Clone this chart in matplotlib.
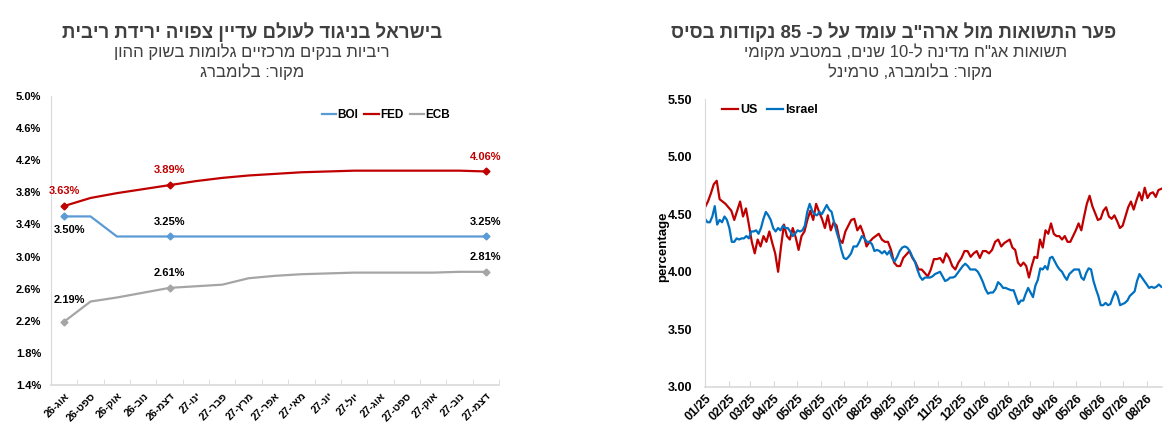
import re
import matplotlib
matplotlib.use('Agg')
import matplotlib.pyplot as plt
import matplotlib.dates as mdates
from matplotlib.lines import Line2D
from matplotlib.ticker import FixedLocator, FuncFormatter, MultipleLocator
import pandas as pd

plt.rcParams['font.family'] = ['Liberation Sans', 'DejaVu Sans']


def heb(s):
    # matplotlib has no bidi: put hebrew text in visual order, keep numbers / latin LTR
    tokens = re.findall(r'[0-9A-Za-z.%/]+|[^0-9A-Za-z.%/]', s)
    return ''.join(tokens[::-1])


#%% data - left chart (policy rate expectations)
months = ['אוג-26', 'ספט-26', 'אוק-26', 'נוב-26', 'דצמ-26', 'ינו-27', 'פבר-27', 'מרץ-27', 'אפר-27',
          'מאי-27', 'יונ-27', 'יול-27', 'אוג-27', 'ספט-27', 'אוק-27', 'נוב-27', 'דצמ-27']
boi = [3.50, 3.50, 3.25, 3.25, 3.25, 3.25, 3.25, 3.25, 3.25, 3.25, 3.25, 3.25, 3.25, 3.25, 3.25, 3.25, 3.25]
fed = [3.63, 3.73, 3.79, 3.84, 3.89, 3.94, 3.98, 4.01, 4.03, 4.05, 4.06, 4.07, 4.07, 4.07, 4.07, 4.07, 4.06]
ecb = [2.19, 2.44, 2.49, 2.55, 2.61, 2.63, 2.65, 2.73, 2.76, 2.78, 2.79, 2.80, 2.80, 2.80, 2.80, 2.81, 2.81]
label_idx = [0, 4, 16]
left_yticks = [1.4, 1.8, 2.2, 2.6, 3.0, 3.4, 3.8, 4.2, 4.6, 5.0]

#%% data - right chart (10y yields), read in three stretches
us_segments = [('2025-01-01', '2025-07-11'), ('2025-07-15', '2026-01-27'), ('2026-02-03', '2026-08-20')]
us_1 = [4.56, 4.61, 4.68, 4.76, 4.79, 4.63, 4.61, 4.59, 4.56, 4.53, 4.45, 4.53, 4.61, 4.48, 4.55, 4.41, 4.26,
        4.16, 4.28, 4.22, 4.31, 4.26, 4.35, 4.25, 4.16, 4.00, 4.22, 4.41, 4.31, 4.28, 4.38, 4.30, 4.19, 4.31,
        4.35, 4.45, 4.53, 4.45, 4.59, 4.52, 4.46, 4.38, 4.49, 4.36, 4.43, 4.40, 4.28, 4.25, 4.35, 4.40, 4.45]
us_2 = [4.46, 4.36, 4.40, 4.33, 4.22, 4.26, 4.29, 4.31, 4.33, 4.28, 4.26, 4.26, 4.19, 4.08, 4.05, 4.05, 4.12,
        4.15, 4.18, 4.12, 4.08, 4.02, 4.02, 3.99, 3.96, 4.02, 4.11, 4.11, 4.12, 4.08, 4.16, 4.12, 4.05, 4.02,
        4.08, 4.12, 4.18, 4.18, 4.13, 4.16, 4.18, 4.12, 4.18, 4.18, 4.16, 4.19, 4.26, 4.28, 4.22, 4.25]
us_3 = [4.28, 4.21, 4.19, 4.08, 4.05, 4.08, 4.05, 3.95, 4.05, 4.13, 4.12, 4.28, 4.21, 4.36, 4.33, 4.42, 4.33,
        4.31, 4.31, 4.28, 4.31, 4.26, 4.26, 4.31, 4.36, 4.42, 4.36, 4.48, 4.59, 4.66, 4.57, 4.51, 4.45, 4.46,
        4.53, 4.56, 4.48, 4.46, 4.49, 4.44, 4.38, 4.40, 4.48, 4.56, 4.61, 4.54, 4.62, 4.69, 4.62, 4.73, 4.64,
        4.68, 4.69, 4.65, 4.71, 4.72]

il_segments = [('2025-01-01', '2025-07-14'), ('2025-07-15', '2026-02-01'), ('2026-02-05', '2026-08-20')]
il_1 = [4.46, 4.43, 4.43, 4.48, 4.57, 4.41, 4.45, 4.43, 4.48, 4.45, 4.38, 4.26, 4.26, 4.29, 4.28, 4.29, 4.29,
        4.31, 4.29, 4.35, 4.35, 4.36, 4.33, 4.38, 4.46, 4.52, 4.49, 4.45, 4.38, 4.35, 4.38, 4.36, 4.40, 4.38,
        4.38, 4.35, 4.31, 4.33, 4.36, 4.35, 4.36, 4.40, 4.52, 4.59, 4.53, 4.50, 4.49, 4.52, 4.50, 4.54, 4.58,
        4.54, 4.52, 4.43, 4.35, 4.28, 4.19, 4.12, 4.11, 4.13, 4.16, 4.22]
il_2 = [4.22, 4.22, 4.26, 4.31, 4.29, 4.26, 4.26, 4.24, 4.18, 4.19, 4.18, 4.16, 4.18, 4.15, 4.18, 4.12, 4.09,
        4.13, 4.18, 4.21, 4.22, 4.21, 4.18, 4.13, 4.09, 4.02, 3.96, 3.93, 3.95, 3.95, 3.95, 3.96, 3.98, 3.99,
        4.00, 3.96, 3.92, 3.93, 3.95, 3.95, 3.96, 3.99, 4.02, 4.05, 4.07, 4.05, 4.02, 4.02, 4.02, 4.00, 3.96,
        3.91, 3.85, 3.81, 3.82, 3.82, 3.85, 3.91, 3.89, 3.86, 3.86, 3.85]
il_3 = [3.84, 3.84, 3.78, 3.72, 3.75, 3.75, 3.81, 3.86, 3.82, 3.78, 3.88, 3.93, 4.03, 4.02, 4.05, 4.02, 4.12,
        4.13, 4.09, 4.05, 4.02, 4.00, 3.96, 3.93, 3.98, 4.00, 4.02, 4.02, 4.02, 3.95, 3.93, 3.99, 4.03, 4.02,
        3.92, 3.85, 3.79, 3.71, 3.71, 3.73, 3.71, 3.72, 3.78, 3.83, 3.79, 3.71, 3.72, 3.73, 3.75, 3.79, 3.81,
        3.83, 3.92, 3.98, 3.95, 3.92, 3.89, 3.86, 3.87, 3.86, 3.87, 3.89, 3.87]


def build(segments, parts):
    dates, vals = [], []
    for (d0, d1), p in zip(segments, parts):
        dates.extend(pd.date_range(d0, d1, periods=len(p)))
        vals.extend(p)
    return dates, vals


us_dates, us = build(us_segments, [us_1, us_2, us_3])
il_dates, il = build(il_segments, [il_1, il_2, il_3])

RED = '#C00000'
BOI_C = '#5B9BD5'
GRAY = '#A5A5A5'
BLUE = '#0070C0'
SPINE = '#D9D9D9'
TITLE_C = '#3F3F3F'

fig = plt.figure(figsize=(11.76, 4.48), dpi=100)

#%% left chart
ax1 = fig.add_axes([0.0434, 0.1406, 0.3809, 0.6451])
x = list(range(len(months)))
ax1.plot(x, boi, color=BOI_C, lw=1.6, marker='D', ms=3.5, markevery=label_idx)
ax1.plot(x, fed, color=RED, lw=1.6, marker='D', ms=3.5, markevery=label_idx)
ax1.plot(x, ecb, color=GRAY, lw=1.6, marker='D', ms=3.5, markevery=label_idx)

ax1.set_xlim(-0.5, len(months) - 0.5)
ax1.set_ylim(1.4, 5.0)
ax1.yaxis.set_major_locator(FixedLocator(left_yticks))
ax1.yaxis.set_major_formatter(FuncFormatter(lambda v, p: f'{v:.1f}%'))
ax1.set_xticks(x)
ax1.set_xticklabels([heb(m) for m in months], rotation=45, ha='right', va='top',
                    rotation_mode='anchor', fontsize=7.5, fontweight='bold')
ax1.xaxis.set_minor_locator(FixedLocator([i - 0.5 for i in range(len(months) + 1)]))
ax1.tick_params(axis='x', which='major', length=0, pad=4)
ax1.tick_params(axis='x', which='minor', length=4, direction='in', color=SPINE)
ax1.tick_params(axis='y', length=0, labelsize=8, pad=7)
for t in ax1.get_yticklabels():
    t.set_fontweight('bold')
for s in ['top', 'right']:
    ax1.spines[s].set_visible(False)
ax1.spines['left'].set_color(SPINE)
ax1.spines['bottom'].set_color(SPINE)
ax1.spines['bottom'].set_linewidth(1.2)

for i in label_idx:
    ax1.annotate(f'{fed[i]:.2f}%', (i, fed[i]), xytext=(0, 7), textcoords='offset points',
                 ha='center', va='bottom', fontsize=8, fontweight='bold', color=RED)
    if i == 0:
        ax1.annotate(f'{boi[i]:.2f}%', (i, boi[i]), xytext=(4, -6), textcoords='offset points',
                     ha='center', va='top', fontsize=8, fontweight='bold', color='black')
        ax1.annotate(f'{ecb[i]:.2f}%', (i, ecb[i]), xytext=(4, 12), textcoords='offset points',
                     ha='center', va='bottom', fontsize=8, fontweight='bold', color='black')
    else:
        ax1.annotate(f'{boi[i]:.2f}%', (i, boi[i]), xytext=(0, 7), textcoords='offset points',
                     ha='center', va='bottom', fontsize=8, fontweight='bold', color='black')
        ax1.annotate(f'{ecb[i]:.2f}%', (i, ecb[i]), xytext=(0, 7), textcoords='offset points',
                     ha='center', va='bottom', fontsize=8, fontweight='bold', color='black')

handles1 = [Line2D([], [], color=c, lw=1.6) for c in (BOI_C, RED, GRAY)]
ax1.legend(handles1, ['BOI', 'FED', 'ECB'], loc='center right', bbox_to_anchor=(0.915, 0.935), ncol=3,
           frameon=False, handlelength=1.2, handletextpad=0.15, columnspacing=0.5,
           prop={'size': 8.5, 'weight': 'bold'})

#%% right chart
ax2 = fig.add_axes([0.5995, 0.1362, 0.3886, 0.6428])
ax2.plot(us_dates, us, color=RED, lw=1.6)
ax2.plot(il_dates, il, color=BLUE, lw=1.6)
ax2.set_ylim(3.0, 5.5)
ax2.set_xlim(pd.Timestamp('2025-01-01'), pd.Timestamp('2026-08-21'))
ax2.yaxis.set_major_locator(MultipleLocator(0.5))
ax2.yaxis.set_major_formatter(FuncFormatter(lambda v, p: f'{v:.2f}'))
ax2.xaxis.set_major_locator(mdates.MonthLocator())
ax2.xaxis.set_major_formatter(mdates.DateFormatter('%m/%y'))
plt.setp(ax2.get_xticklabels(), rotation=45, ha='right', va='top', rotation_mode='anchor',
         fontsize=9, fontweight='bold')
ax2.tick_params(axis='x', length=4, direction='in', color=SPINE, pad=4)
ax2.tick_params(axis='y', length=0, labelsize=9, pad=9)
for t in ax2.get_yticklabels():
    t.set_fontweight('bold')
for s in ['top', 'right']:
    ax2.spines[s].set_visible(False)
ax2.spines['left'].set_color(SPINE)
ax2.spines['bottom'].set_color(SPINE)
ax2.spines['bottom'].set_linewidth(1.2)
handles2 = [Line2D([], [], color=c, lw=1.6) for c in (RED, BLUE)]
ax2.legend(handles2, ['US', 'Israel'], loc='center left', bbox_to_anchor=(0.012, 0.962), ncol=2,
           frameon=False, handlelength=1.3, handletextpad=0.15, columnspacing=0.8,
           prop={'size': 9, 'weight': 'bold'})
# stray rotated axis label, squashed behind the tick labels
fig.text(663 / 1176, 1 - 247 / 448, 'percentage', rotation=90, ha='center', va='center',
         fontsize=9.5, fontweight='bold')

#%% titles
left_c = 252 / 1176
right_c = 894 / 1176
fig.text(left_c, 1 - 32 / 448, heb('בישראל בניגוד לעולם עדיין צפויה ירידת ריבית'), ha='center', va='center',
         fontsize=13.4, fontweight='bold', color=TITLE_C)
fig.text(left_c, 1 - 52 / 448, heb('ריביות בנקים מרכזיים גלומות בשוק ההון'), ha='center', va='center',
         fontsize=12, color=TITLE_C)
fig.text(left_c, 1 - 72 / 448, heb('מקור: בלומברג'), ha='center', va='center',
         fontsize=12, color=TITLE_C)
fig.text(right_c, 1 - 32 / 448, heb('פער התשואות מול ארה"ב עומד על כ- 85 נקודות בסיס'), ha='center',
         va='center', fontsize=13.4, fontweight='bold', color=TITLE_C)
fig.text(906 / 1176, 1 - 52 / 448, heb('תשואות אג"ח מדינה ל-10 שנים, במטבע מקומי'), ha='center', va='center',
         fontsize=12, color=TITLE_C)
fig.text(910 / 1176, 1 - 72 / 448, heb('מקור: בלומברג, טרמינל'), ha='center', va='center',
         fontsize=12, color=TITLE_C)

fig.savefig('out.png', dpi=100)
